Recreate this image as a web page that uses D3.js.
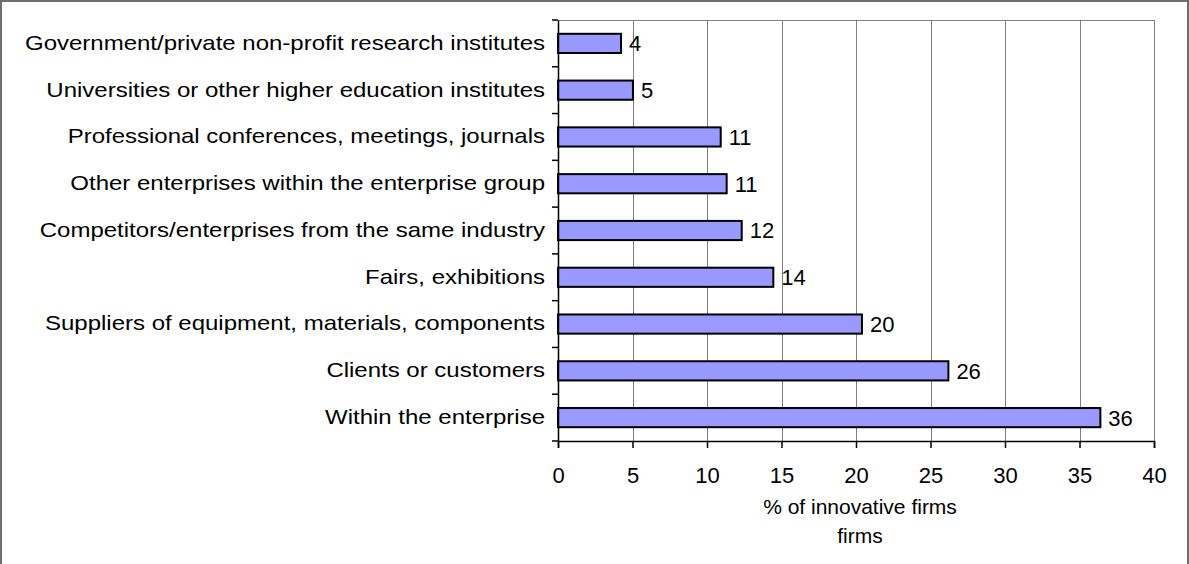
<!DOCTYPE html>
<html><head><meta charset="utf-8">
<script src="https://cdn.jsdelivr.net/npm/d3@7"></script>
<style>body{margin:0;background:#fff}svg{display:block}text{font-family:"Liberation Sans",Arial,sans-serif}</style>
</head><body>
<svg id="c" width="1189" height="564"></svg>
<script>
const categories = [
  "Government/private non-profit research institutes",
  "Universities or other higher education institutes",
  "Professional conferences, meetings, journals",
  "Other enterprises within the enterprise group",
  "Competitors/enterprises from the same industry",
  "Fairs, exhibitions",
  "Suppliers of equipment, materials, components",
  "Clients or customers",
  "Within the enterprise"
];
const values = [4.23, 5.03, 10.92, 11.32, 12.33, 14.45, 20.4, 26.2, 36.4];
const valueLabels = ["4", "5", "11", "11", "12", "14", "20", "26", "36"];
const xTicks = [0, 5, 10, 15, 20, 25, 30, 35, 40];
const axisTitle = ["% of innovative firms", "firms"];

const FONT = '"Liberation Sans",Arial,sans-serif';
const svg = d3.select("#c");
svg.append("rect").attr("x", 1).attr("y", 1).attr("width", 1187).attr("height", 564)
  .attr("fill", "#fff").attr("stroke", "#6e6e6e").attr("stroke-width", 2);

const L = 558, R = 1154, T = 20, B = 441;
const x = d3.scaleLinear().domain([0, 40]).range([L, R]);
const y = d3.scaleBand().domain(categories).range([T, B]).paddingInner(0.59).paddingOuter(0.295);
const yb = d3.scaleBand().domain(categories).range([T, B]);

// gridlines
svg.append("g").selectAll("line").data(xTicks.filter(d => d > 0)).join("line")
  .attr("x1", d => Math.round(x(d)) + 0.5).attr("x2", d => Math.round(x(d)) + 0.5)
  .attr("y1", T).attr("y2", B).attr("stroke", "#808080").attr("stroke-width", 1);
svg.append("line").attr("x1", L).attr("x2", R).attr("y1", T + 0.5).attr("y2", T + 0.5)
  .attr("stroke", "#808080").attr("stroke-width", 1);

// bars
svg.append("g").selectAll("rect").data(categories).join("rect")
  .attr("x", x(0)).attr("y", (d) => y(d))
  .attr("width", (d, i) => x(values[i]) - x(0)).attr("height", y.bandwidth())
  .attr("fill", "#9999FF").attr("stroke", "#000").attr("stroke-width", 2);

// value labels
svg.append("g").selectAll("text").data(categories).join("text")
  .attr("x", (d, i) => x(values[i]) + 8).attr("y", d => y(d) + y.bandwidth() / 2)
  .attr("dy", "0.36em").attr("font-size", 22).text((d, i) => valueLabels[i]);

// y axis
const ya = svg.append("g").attr("transform", `translate(${L},0)`)
  .call(d3.axisLeft(yb).tickSize(0).tickPadding(13));
ya.select(".domain").attr("stroke", "#000").attr("stroke-width", 1.5);
ya.selectAll(".tick text").attr("font-size", 20).attr("fill", "#000")
  .style("font-family", FONT)
  .attr("x", 0).attr("transform", "translate(-13,0) scale(1.2,1)");
// band boundary ticks
svg.append("g").selectAll("line").data(categories.concat(["__end"])).join("line")
  .attr("x1", L - 6).attr("x2", L)
  .attr("y1", (d, i) => T + i * yb.step()).attr("y2", (d, i) => T + i * yb.step())
  .attr("stroke", "#000").attr("stroke-width", 1.5);

// x axis
const xa = svg.append("g").attr("transform", `translate(0,${B})`)
  .call(d3.axisBottom(x).tickValues(xTicks).tickSize(7).tickPadding(19));
xa.select(".domain").attr("stroke", "#000").attr("stroke-width", 1.5);
xa.selectAll(".tick line").attr("stroke", "#000").attr("stroke-width", 1.5);
xa.selectAll("text").attr("font-size", 22).attr("fill", "#000")
  .style("font-family", FONT);

// axis title
svg.append("g").selectAll("text").data(axisTitle).join("text")
  .attr("x", 860).attr("y", (d, i) => 514 + i * 29).attr("text-anchor", "middle")
  .attr("font-size", 21).text(d => d);
</script>
</body></html>
